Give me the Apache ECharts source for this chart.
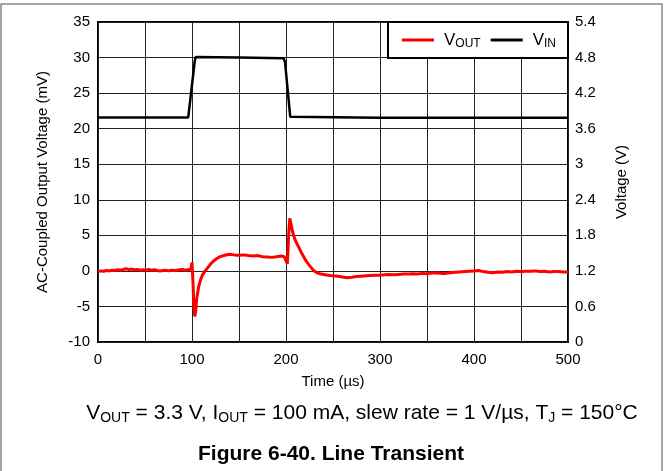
<!DOCTYPE html>
<html>
<head>
<meta charset="utf-8">
<script src="https://cdn.jsdelivr.net/npm/echarts@6/dist/echarts.min.js"></script>
<style>
html,body{margin:0;padding:0;background:#fff;}
#c{width:664px;height:471px;}
</style>
</head>
<body>
<div id="c"></div>
<script>
// Time axis (µs) and VOUT (AC-coupled, mV)
var voutTime = [0,3,6,9,12,15,18,21,24,27,30,33,36,39,42,45,48,51,54,57,60,63,66,69,72,75,78,81,84,87,90,93,96,98,99,100,101,102,103,104,105,107,109,111,114,117,120,123,126,130,135,140,145,150,155,160,165,170,175,180,185,190,195,198,200,201.5,203,204,205,207,209,211,214,217,220,223,226,229,232,236,240,245,250,255,260,265,270,275,280,285,290,295,300,305,310,315,320,325,330,335,340,345,350,355,360,365,370,375,380,385,390,395,400,405,410,415,420,425,430,435,440,445,450,455,460,465,470,475,480,485,490,495,500];
var voutMv = [-0.1,0.0,-0.05,0.05,0.0,0.1,0.05,0.15,0.1,0.2,0.3,0.2,0.25,0.15,0.2,0.1,0.15,0.1,0.2,0.1,0.15,0.05,0.0,0.05,0.1,0.0,0.1,0.05,0.1,0.15,0.2,0.1,0.15,0.1,0.3,1.2,-1.5,-5.0,-6.4,-5.6,-3.9,-2.3,-1.3,-0.6,0.0,0.5,1.0,1.4,1.7,2.0,2.2,2.35,2.25,2.2,2.25,2.15,2.1,2.15,2.0,1.95,1.9,2.0,2.1,2.0,1.95,1.0,5.5,7.4,6.8,5.5,4.6,4.0,3.2,2.4,1.7,1.1,0.6,0.1,-0.2,-0.4,-0.5,-0.6,-0.7,-0.75,-0.85,-0.95,-0.9,-0.8,-0.75,-0.7,-0.65,-0.6,-0.6,-0.55,-0.5,-0.55,-0.5,-0.45,-0.45,-0.4,-0.45,-0.35,-0.4,-0.3,-0.3,-0.35,-0.35,-0.25,-0.2,-0.15,-0.1,-0.05,0.0,0.05,-0.1,-0.2,-0.25,-0.15,-0.2,-0.1,-0.15,-0.05,-0.1,-0.05,-0.05,0.0,-0.1,-0.05,-0.15,-0.1,-0.1,-0.15,-0.15];
// VIN (V)
var vinTime = [0,50,96,97.5,103,104,150,197.5,199,204.5,206,300,400,500];
var vinV = [3.79,3.79,3.79,3.81,4.75,4.81,4.80,4.79,4.72,3.80,3.785,3.785,3.785,3.785];
// Axes
var leftMin = -10, leftMax = 35, leftStep = 5;
var rightMin = 0, rightMax = 5.4, rightStep = 0.6;
var timeMin = 0, timeMax = 500, timeStep = 50, timeLabelStep = 100;

function pairs(t, v){ return t.map(function(x,i){ return [x, v[i]]; }); }

var FONT = '"Liberation Sans", Arial, sans-serif';
var chart = echarts.init(document.getElementById('c'), null, {renderer:'canvas'});
var lbl = {color:'#000', fontFamily:FONT, fontSize:15};
chart.setOption({
  animation:false,
  backgroundColor:'#fff',
  grid:{left:98, right:96, top:22, bottom:129, show:true, borderColor:'#000', borderWidth:2, containLabel:false},
  legend:{
    right:96, top:22, orient:'horizontal', icon:'rect',
    backgroundColor:'#fff', borderColor:'#000', borderWidth:2,
    padding:[8,12,8,14], itemGap:10, itemWidth:32, itemHeight:3,
    data:['VOUT','VIN'],
    formatter:function(n){ return n==='VOUT' ? '{a|V}{b|OUT}' : '{a|V}{b|IN}'; },
    textStyle:{fontFamily:FONT, color:'#000',
      rich:{a:{fontSize:17, fontFamily:FONT, color:'#000', lineHeight:20, padding:[0,0,0,5]},
            b:{fontSize:12, fontFamily:FONT, color:'#000', lineHeight:12, padding:[8,0,0,0]}}}
  },
  xAxis:{type:'value', min:timeMin, max:timeMax, interval:timeStep,
    name:'Time (µs)', nameLocation:'middle', nameGap:32, nameTextStyle:lbl,
    axisLine:{show:false}, axisTick:{show:false},
    axisLabel:Object.assign({margin:10, formatter:function(v){ return v % timeLabelStep === 0 ? String(v) : ''; }}, lbl),
    splitLine:{show:true, lineStyle:{color:'#222', width:1}}},
  yAxis:[
    {type:'value', min:leftMin, max:leftMax, interval:leftStep, position:'left',
     name:'AC-Coupled Output Voltage (mV)', nameLocation:'middle', nameRotate:90, nameGap:48, nameTextStyle:lbl,
     axisLine:{show:false}, axisTick:{show:false},
     axisLabel:Object.assign({margin:8}, lbl),
     splitLine:{show:true, lineStyle:{color:'#222', width:1}}},
    {type:'value', min:rightMin, max:rightMax, interval:rightStep, position:'right',
     name:'Voltage (V)', nameLocation:'middle', nameRotate:90, nameGap:46, nameTextStyle:lbl,
     axisLine:{show:false}, axisTick:{show:false},
     axisLabel:Object.assign({margin:7, formatter:function(v){ return String(+v.toFixed(1)); }}, lbl),
     splitLine:{show:false}}
  ],
  series:[
    {name:'VOUT', type:'line', yAxisIndex:0, data:pairs(voutTime, voutMv), symbol:'none', z:3,
     lineStyle:{color:'#ff0000', width:3}, itemStyle:{color:'#ff0000'}},
    {name:'VIN', type:'line', yAxisIndex:1, data:pairs(vinTime, vinV), symbol:'none', z:4,
     lineStyle:{color:'#000', width:2.5}, itemStyle:{color:'#000'}}
  ],
  graphic:[
    {type:'rect', shape:{x:1, y:4, width:661, height:490}, style:{fill:null, stroke:'#888', lineWidth:1.5}, silent:true, z:-10},
    {type:'text', x:362, y:413, style:{
      text:'{v|V}{s|OUT}{v| = 3.3 V, I}{s|OUT}{v| = 100 mA, slew rate = 1 V/µs, T}{s|J}{v| = 150°C}',
      align:'center', verticalAlign:'middle', fill:'#000', font:'21px '+FONT,
      rich:{v:{fontSize:21, fontFamily:FONT, fill:'#000', lineHeight:24},
            s:{fontSize:14, fontFamily:FONT, fill:'#000', lineHeight:14, padding:[10,0,0,0]}}}},
    {type:'text', x:331, y:454, style:{text:'Figure 6-40. Line Transient', align:'center', verticalAlign:'middle',
      fill:'#000', font:'bold 21px '+FONT}}
  ]
});
</script>
</body>
</html>
